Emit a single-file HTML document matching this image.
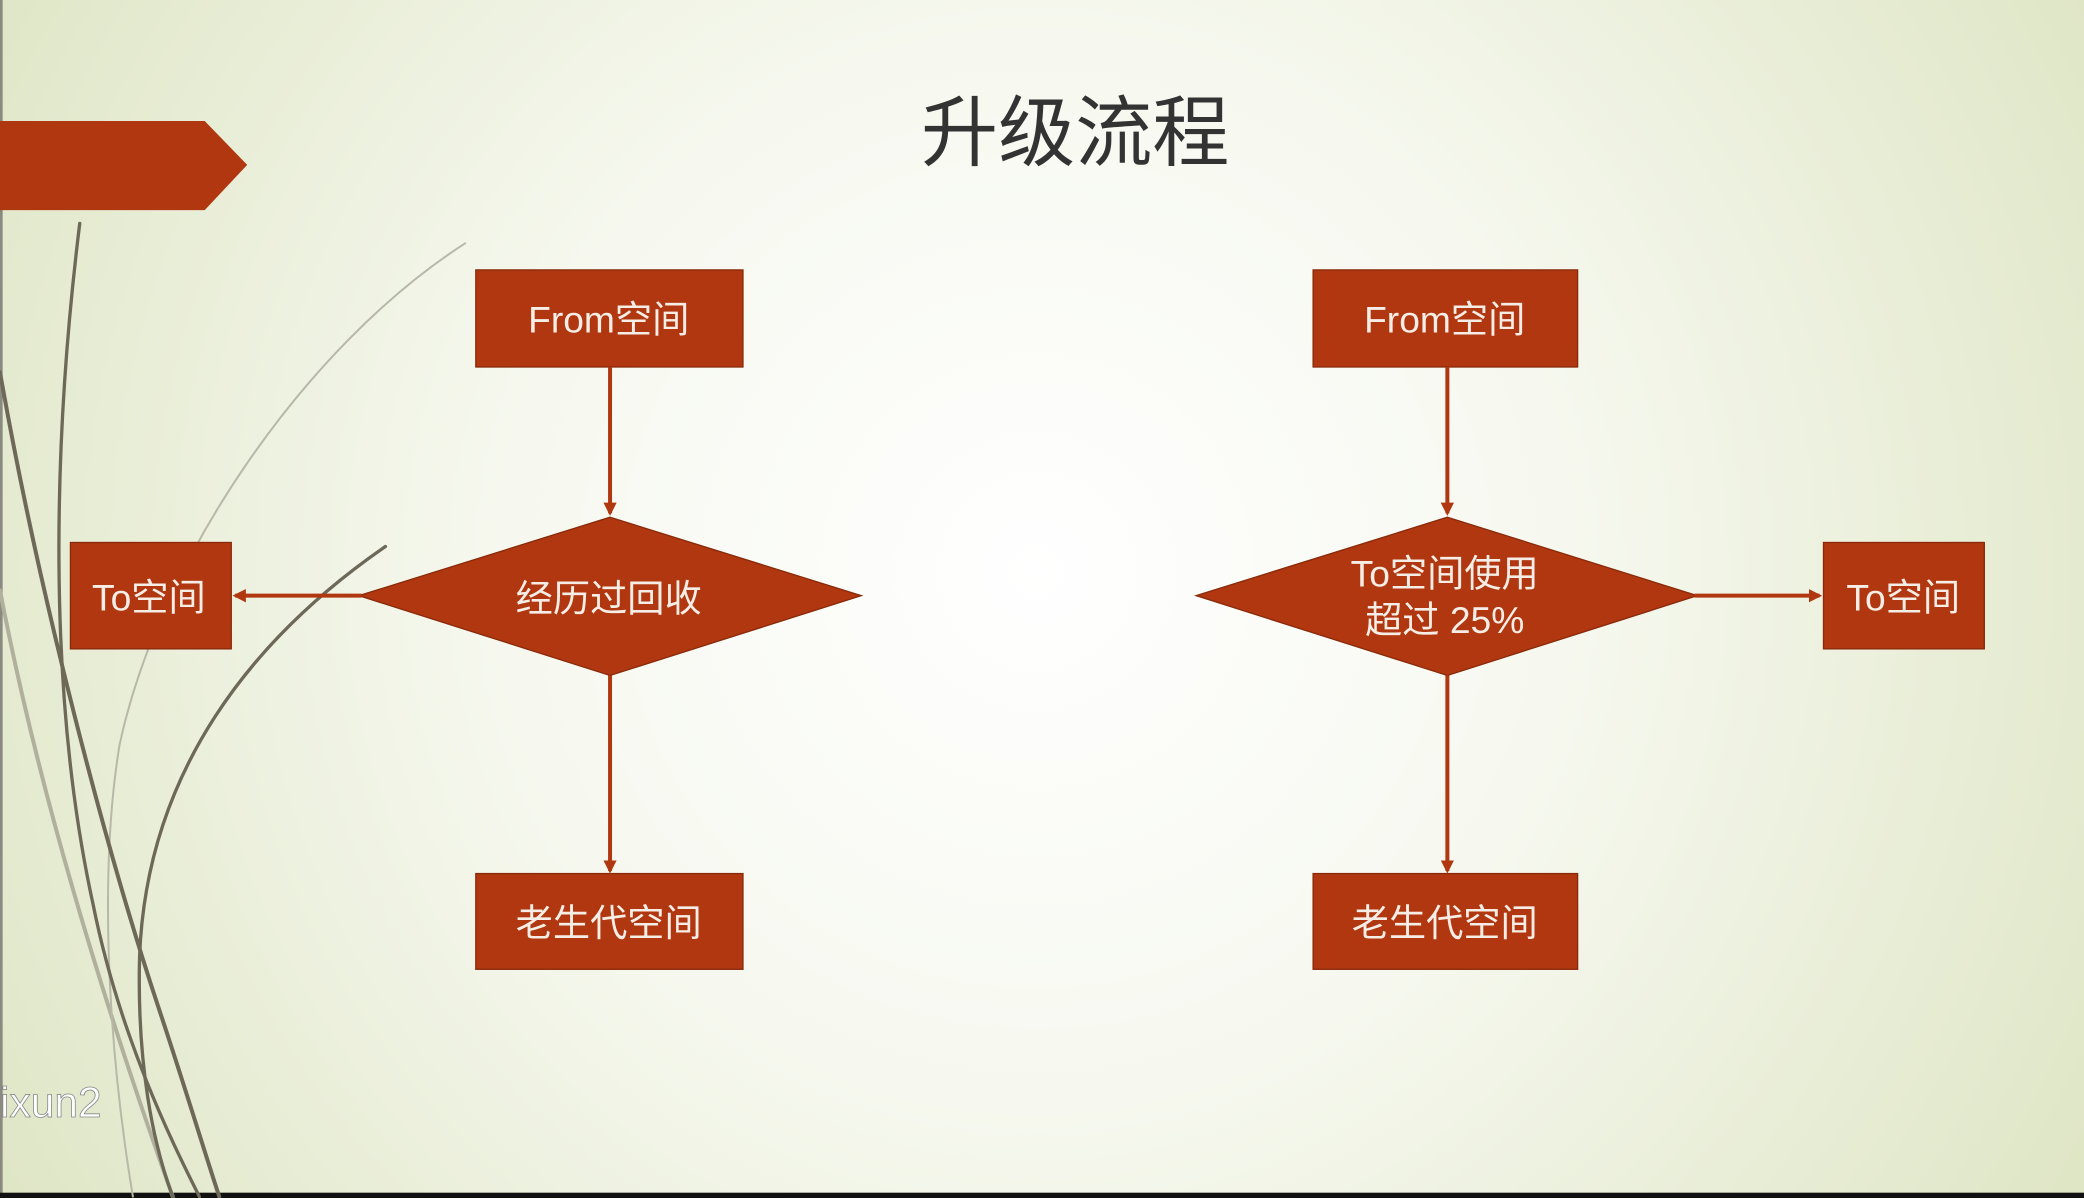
<!DOCTYPE html>
<html><head><meta charset="utf-8"><style>
html,body{margin:0;padding:0;width:2084px;height:1198px;overflow:hidden;}
svg{display:block;}
text{font-family:"Liberation Sans","Noto Sans CJK SC",sans-serif;fill:#f6eee6;}
</style></head><body>
<svg width="2084" height="1198" viewBox="0 0 1568 901" preserveAspectRatio="none" xmlns="http://www.w3.org/2000/svg">
<defs>
<radialGradient id="bg" cx="780" cy="430" r="900" gradientUnits="userSpaceOnUse">
<stop offset="0" stop-color="#ffffff"/>
<stop offset="0.45" stop-color="#f6f8ef"/>
<stop offset="1" stop-color="#dfe6c6"/>
</radialGradient>
<marker id="ar" markerWidth="10" markerHeight="10" refX="8" refY="5" orient="auto" markerUnits="userSpaceOnUse">
<path d="M0,0 L10,5 L0,10 z" fill="#b0370f"/>
</marker>
</defs>
<rect width="1568" height="901" fill="url(#bg)"/>
<rect x="0" y="0" width="2" height="901" fill="#8a8a80"/>
<rect x="0" y="897" width="1568" height="4" fill="#111"/>
<g fill="none" stroke-linecap="round">
<path d="M0,444 C30,600 80,760 130,900" stroke="#b0b09c" stroke-width="3"/>
<path d="M350,183 C230,260 120,420 90,560 C75,650 80,780 100,900" stroke="#b8b8a8" stroke-width="1.5"/>
<path d="M60,168 C40,330 35,520 70,680 C90,780 130,860 150,900" stroke="#6d6858" stroke-width="2.5"/>
<path d="M0,280 C30,450 80,640 120,760 C140,820 155,870 165,900" stroke="#6d6858" stroke-width="3"/>
<path d="M290,411 C190,480 110,580 105,720 C103,800 115,860 130,900" stroke="#6d6858" stroke-width="2.5"/>
</g>
<polygon points="0,91 154,91 186,124 154,158 0,158" fill="#b0370f"/>
<text x="809" y="120" font-size="58" text-anchor="middle" style="fill:#333">升级流程</text>
<text x="0" y="840" font-size="32" style="fill:#fff;stroke:#888;stroke-width:0.6">ixun2</text>

<g fill="#b0370f" stroke="#8a2a0a" stroke-width="1">
<rect x="358" y="203" width="201" height="73"/>
<rect x="53" y="408" width="121" height="80"/>
<rect x="358" y="657" width="201" height="72"/>
<rect x="988" y="203" width="199" height="73"/>
<rect x="1372" y="408" width="121" height="80"/>
<rect x="988" y="657" width="199" height="72"/>
<polygon points="459,389 648,448 459,508 270,448"/>
<polygon points="1089,389 1277,448 1089,508 900,448"/>
</g>
<g stroke="#b0370f" stroke-width="3" fill="none">
<line x1="459" y1="276" x2="459" y2="386" marker-end="url(#ar)"/>
<line x1="459" y1="508" x2="459" y2="655" marker-end="url(#ar)"/>
<line x1="272" y1="448" x2="177" y2="448" marker-end="url(#ar)"/>
<line x1="1089" y1="276" x2="1089" y2="386" marker-end="url(#ar)"/>
<line x1="1089" y1="508" x2="1089" y2="655" marker-end="url(#ar)"/>
<line x1="1275" y1="448" x2="1369" y2="448" marker-end="url(#ar)"/>
</g>
<g font-size="28" text-anchor="middle">
<text x="458" y="250">From空间</text>
<text x="112" y="459">To空间</text>
<text x="458" y="460">经历过回收</text>
<text x="458" y="704">老生代空间</text>
<text x="1087" y="250">From空间</text>
<text x="1432" y="459">To空间</text>
<text x="1087" y="441">To空间使用</text>
<text x="1087" y="476">超过 25%</text>
<text x="1087" y="704">老生代空间</text>
</g>
</svg>
</body></html>
